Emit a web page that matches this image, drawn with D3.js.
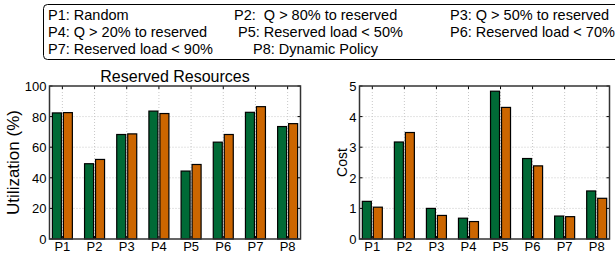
<!DOCTYPE html>
<html>
<head>
<meta charset="utf-8">
<script src="https://cdn.jsdelivr.net/npm/d3@7"></script>
<style>
  body { margin: 0; background: #fff; }
  svg { display: block; font-family: "Liberation Sans", Arial, sans-serif; }
</style>
</head>
<body>
<div id="chart"></div>
<script>
// data
var policies = ["P1", "P2", "P3", "P4", "P5", "P6", "P7", "P8"];
var utilGreen = [82.4, 49.2, 68.3, 83.6, 44.4, 63.3, 82.8, 73.5];
var utilOrange = [82.6, 52.0, 68.7, 82.0, 48.7, 68.3, 86.5, 75.4];
var costGreen = [1.23, 3.17, 1.00, 0.68, 4.83, 2.63, 0.75, 1.57];
var costOrange = [1.04, 3.48, 0.77, 0.57, 4.30, 2.39, 0.73, 1.33];
var utilTicks = [0, 20, 40, 60, 80, 100];
var costTicks = [0, 1, 2, 3, 4, 5];
var legendRows = [
    ["P1: Random", "P2:  Q > 80% to reserved", "P3: Q > 50% to reserved"],
    ["P4: Q > 20% to reserved", "P5: Reserved load < 50%", "P6: Reserved load < 70%"],
    ["P7: Reserved load < 90%", "P8: Dynamic Policy", ""]
];
var legendX = [[48, 234, 450], [48, 238, 450], [48, 253, 450]];

var green = "#006a36";
var orange = "#cc6600";

var svg = d3.select('#chart').append('svg')
    .attr('width', 615)
    .attr('height', 255);

// legend box
svg.append('rect')
    .attr('x', 43.5)
    .attr('y', 4.5)
    .attr('width', 600)
    .attr('height', 55)
    .attr('rx', 4)
    .style('fill', 'none')
    .style('stroke', '#000')
    .style('stroke-width', 1);

legendRows.forEach(function (row, r) {
    row.forEach(function (txt, c) {
        svg.append('text')
            .attr('x', legendX[r][c])
            .attr('y', 20 + r * 17)
            .style('font-size', '14.5px')
            .style('white-space', 'pre')
            .text(txt);
    });
});

function drawPanel(opts) {
    var g = svg.append('g');
    var x = d3.scalePoint().domain(policies).range([opts.left, opts.right]).padding(0.4);
    var y = d3.scaleLinear().domain(opts.domain).range([opts.bottom, opts.top]);
    var bw = 9, gap = 1;

    // grid
    g.selectAll('.hgrid').data(opts.ticks.slice(1, -1)).enter().append('line')
        .attr('x1', opts.left).attr('x2', opts.right)
        .attr('y1', function (d) { return y(d); })
        .attr('y2', function (d) { return y(d); })
        .style('stroke', '#c8c8c8').style('stroke-dasharray', '1,2');
    g.selectAll('.vgrid').data(policies).enter().append('line')
        .attr('x1', function (d) { return x(d); })
        .attr('x2', function (d) { return x(d); })
        .attr('y1', opts.top).attr('y2', opts.bottom)
        .style('stroke', '#c8c8c8').style('stroke-dasharray', '1,2');

    // bars
    g.selectAll('.gbar').data(opts.a).enter().append('rect')
        .attr('x', function (d, i) { return x(policies[i]) - gap - bw; })
        .attr('y', function (d) { return y(d); })
        .attr('width', bw)
        .attr('height', function (d) { return y(0) - y(d); })
        .style('fill', green).style('stroke', '#000').style('stroke-width', 1.2);
    g.selectAll('.obar').data(opts.b).enter().append('rect')
        .attr('x', function (d, i) { return x(policies[i]) + gap; })
        .attr('y', function (d) { return y(d); })
        .attr('width', bw)
        .attr('height', function (d) { return y(0) - y(d); })
        .style('fill', orange).style('stroke', '#000').style('stroke-width', 1.2);

    // inward ticks
    opts.ticks.forEach(function (t) {
        g.append('line').attr('x1', opts.left).attr('x2', opts.left + 3)
            .attr('y1', y(t)).attr('y2', y(t)).style('stroke', '#000');
        g.append('line').attr('x1', opts.right).attr('x2', opts.right - 3)
            .attr('y1', y(t)).attr('y2', y(t)).style('stroke', '#000');
        g.append('text').attr('x', opts.left - 3).attr('y', y(t) + 5)
            .attr('text-anchor', 'end').style('font-size', '13px').text(t);
    });
    policies.forEach(function (p) {
        g.append('line').attr('x1', x(p)).attr('x2', x(p))
            .attr('y1', opts.bottom).attr('y2', opts.bottom - 3).style('stroke', '#000');
        g.append('line').attr('x1', x(p)).attr('x2', x(p))
            .attr('y1', opts.top).attr('y2', opts.top + 3).style('stroke', '#000');
        g.append('text').attr('x', x(p)).attr('y', opts.bottom + 12)
            .attr('text-anchor', 'middle').style('font-size', '13px').text(p);
    });

    // frame
    g.append('rect')
        .attr('x', opts.left).attr('y', opts.top)
        .attr('width', opts.right - opts.left)
        .attr('height', opts.bottom - opts.top)
        .style('fill', 'none').style('stroke', '#333').style('stroke-width', 1.5);

    // y label
    g.append('text')
        .attr('transform', 'translate(' + opts.labelX + ',' + ((opts.top + opts.bottom) / 2) + ') rotate(-90)')
        .attr('text-anchor', 'middle')
        .style('font-size', opts.labelSize + 'px')
        .text(opts.label);

    if (opts.title) {
        g.append('text')
            .attr('x', (opts.left + opts.right) / 2)
            .attr('y', opts.top - 4)
            .attr('text-anchor', 'middle')
            .style('font-size', '16px')
            .text(opts.title);
    }
}

drawPanel({
    left: 49.5, right: 300.5, top: 86, bottom: 239,
    domain: [0, 100], ticks: utilTicks,
    a: utilGreen, b: utilOrange,
    label: 'Utilization (%)', labelX: 19, labelSize: 17,
    title: 'Reserved Resources'
});

drawPanel({
    left: 359.5, right: 609.5, top: 86, bottom: 239,
    domain: [0, 5], ticks: costTicks,
    a: costGreen, b: costOrange,
    label: 'Cost', labelX: 347, labelSize: 14
});
</script>
</body>
</html>
